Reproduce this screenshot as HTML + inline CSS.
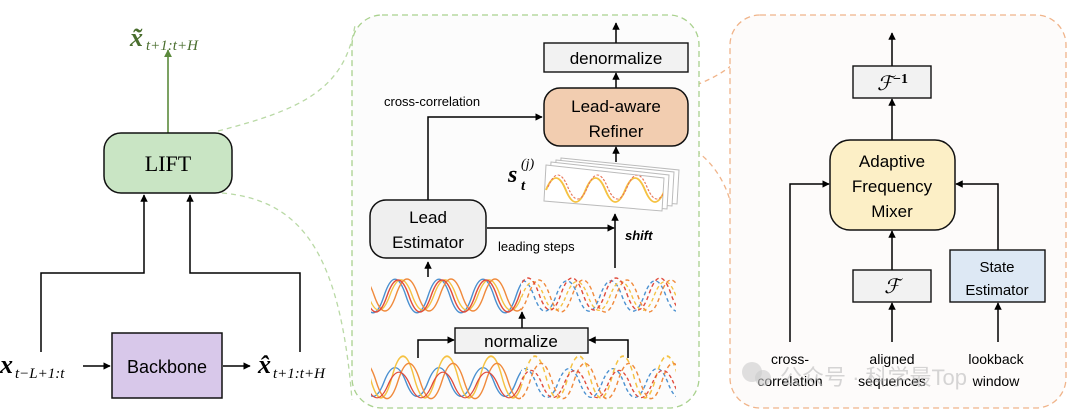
<!DOCTYPE html>
<html><head><meta charset="utf-8"><style>
html,body{margin:0;padding:0;background:#fff;}
svg{display:block;}
.s{font-family:"Liberation Sans",sans-serif;}
.m{font-family:"Liberation Serif",serif;font-style:italic;font-weight:bold;}
</style></head><body>
<svg width="1080" height="419" viewBox="0 0 1080 419" xmlns="http://www.w3.org/2000/svg">
<defs>
<marker id="a" viewBox="0 0 10 10" refX="9" refY="5" markerWidth="5" markerHeight="5" orient="auto"><path d="M0,0L10,5L0,10z" fill="#000"/></marker>
<marker id="g" viewBox="0 0 10 10" refX="9" refY="5" markerWidth="5" markerHeight="5" orient="auto"><path d="M0,0L10,5L0,10z" fill="#5b8a3c"/></marker>
<path id="w" d="M340,0 Q351,-32 362,0 T384,0 T406,0 T428,0 T450,0 T472,0 T494,0 T516,0 T538,0 T560,0 T582,0 T604,0 T626,0 T648,0 T670,0 T692,0 T714,0" fill="none"/>
<clipPath id="cs"><rect x="371" y="260" width="150" height="150"/></clipPath>
<clipPath id="cd"><rect x="521" y="260" width="155" height="150"/></clipPath>
<clipPath id="cp"><polygon points="546,165 664,178 662,211 544,201"/></clipPath>
</defs>

<path d="M218,131 C300,110 345,90 355,25" fill="none" stroke="#b9d9a5" stroke-width="1.3" stroke-dasharray="5,4"/>
<path d="M222,193 C300,200 340,250 352,400" fill="none" stroke="#b9d9a5" stroke-width="1.3" stroke-dasharray="5,4"/>
<path d="M688,88 C705,82 720,75 732,65" fill="none" stroke="#f0b48a" stroke-width="1.3" stroke-dasharray="5,4"/>
<path d="M688,146 C715,160 730,190 733,215" fill="none" stroke="#f0b48a" stroke-width="1.3" stroke-dasharray="5,4"/>

<rect x="352" y="15" width="347" height="393" rx="30" fill="#fcfcfc" stroke="#a9d18e" stroke-width="1.3" stroke-dasharray="6,4"/>
<rect x="730" y="15" width="336" height="393" rx="30" fill="#fdfbfa" stroke="#f0b48a" stroke-width="1.3" stroke-dasharray="6,4"/>

<!-- LEFT -->
<line x1="168" y1="133" x2="168" y2="50" stroke="#5b8a3c" stroke-width="1.6" marker-end="url(#g)"/>
<text x="130" y="46" class="m" font-size="26" fill="#4a6e2e">x̃</text>
<text x="146" y="50" font-family="Liberation Serif,serif" font-style="italic" font-size="15" fill="#4a6e2e">t+1:t+H</text>
<rect x="104" y="133" width="128" height="60" rx="17" fill="#c9e5c4" stroke="#111" stroke-width="1.5"/>
<text x="168" y="171" font-family="Liberation Serif,serif" font-size="22" text-anchor="middle">LIFT</text>
<polyline points="41,352 41,273 144,273 144,195" fill="none" stroke="#000" stroke-width="1.5" marker-end="url(#a)"/>
<polyline points="300,352 300,273 190,273 190,195" fill="none" stroke="#000" stroke-width="1.5" marker-end="url(#a)"/>
<rect x="112" y="333" width="110" height="65" fill="#d8c8ea" stroke="#111" stroke-width="1.5"/>
<text x="167" y="373" class="s" font-size="18" text-anchor="middle">Backbone</text>
<line x1="83" y1="366" x2="110" y2="366" stroke="#000" stroke-width="1.5" marker-end="url(#a)"/>
<line x1="223" y1="366" x2="250" y2="366" stroke="#000" stroke-width="1.5" marker-end="url(#a)"/>
<text x="0" y="373" class="m" font-size="26">x</text>
<text x="15" y="378" font-family="Liberation Serif,serif" font-style="italic" font-size="15">t−L+1:t</text>
<text x="258" y="373" class="m" font-size="26">x̂</text>
<text x="273" y="378" font-family="Liberation Serif,serif" font-style="italic" font-size="15">t+1:t+H</text>

<!-- MIDDLE -->
<line x1="616" y1="43" x2="616" y2="23" stroke="#000" stroke-width="1.5" marker-end="url(#a)"/>
<rect x="544" y="43" width="144" height="29" fill="#f2f2f2" stroke="#111" stroke-width="1.4"/>
<text x="616" y="64" class="s" font-size="17" text-anchor="middle">denormalize</text>
<line x1="616" y1="88" x2="616" y2="73" stroke="#000" stroke-width="1.5" marker-end="url(#a)"/>
<rect x="544" y="88" width="144" height="58" rx="16" fill="#f2cdb0" stroke="#111" stroke-width="1.5"/>
<text x="616" y="112" class="s" font-size="17" text-anchor="middle">Lead-aware</text>
<text x="616" y="137" class="s" font-size="17" text-anchor="middle">Refiner</text>
<text x="384" y="106" class="s" font-size="13">cross-correlation</text>
<polyline points="428,200 428,117 542,117" fill="none" stroke="#000" stroke-width="1.5" marker-end="url(#a)"/>
<line x1="616" y1="162" x2="616" y2="147" stroke="#000" stroke-width="1.5" marker-end="url(#a)"/>
<polygon points="561,158 679,170 677,204 559,194" fill="#fff" stroke="#bbb"/>
<polygon points="556,160 674,172 672,206 554,196" fill="#fff" stroke="#bbb"/>
<polygon points="551,162 669,175 667,209 549,199" fill="#fff" stroke="#bbb"/>
<polygon points="546,165 664,178 662,211 544,201" fill="#fff" stroke="#bbb"/>
<g clip-path="url(#cp)">
<use href="#w" transform="translate(240,190) scale(0.9,0.75)" stroke="#f5c242" stroke-width="2.2"/>
<use href="#w" transform="translate(242,187) scale(0.9,0.75)" stroke="#e8775a" stroke-width="1.4" stroke-dasharray="3,2"/>
</g>
<text x="508" y="182" class="m" font-size="24">s</text>
<text x="521" y="168" font-family="Liberation Serif,serif" font-style="italic" font-size="14">(j)</text>
<text x="521" y="190" font-family="Liberation Serif,serif" font-style="italic" font-weight="bold" font-size="15">t</text>
<rect x="370" y="200" width="116" height="58" rx="16" fill="#efefef" stroke="#111" stroke-width="1.5"/>
<text x="428" y="223" class="s" font-size="17" text-anchor="middle">Lead</text>
<text x="428" y="248" class="s" font-size="17" text-anchor="middle">Estimator</text>
<line x1="487" y1="228" x2="614" y2="228" stroke="#000" stroke-width="1.5" marker-end="url(#a)"/>
<text x="498" y="251" class="s" font-size="13">leading steps</text>
<text x="625" y="240" class="s" font-size="13" font-style="italic" font-weight="bold">shift</text>
<line x1="615" y1="268" x2="615" y2="214" stroke="#000" stroke-width="1.5" marker-end="url(#a)"/>
<line x1="428" y1="277" x2="428" y2="262" stroke="#000" stroke-width="1.5" marker-end="url(#a)"/>
<g clip-path="url(#cs)" stroke-width="1.4">
<use href="#w" transform="translate(0,296) scale(1,1.05)" stroke="#4a90d0"/>
<use href="#w" transform="translate(6,295) scale(1,0.95)" stroke="#f5c242"/>
<use href="#w" transform="translate(12,295) scale(1,1)" stroke="#f08a3c"/>
<use href="#w" transform="translate(3,296) scale(1,1)" stroke="#e04b3c"/>
</g>
<g clip-path="url(#cd)" stroke-width="1.4" stroke-dasharray="4,3">
<use href="#w" transform="translate(-4,296) scale(1,0.95)" stroke="#4a90d0"/>
<use href="#w" transform="translate(6,296) scale(1,0.9)" stroke="#f5c242"/>
<use href="#w" transform="translate(12,296) scale(1,1)" stroke="#f08a3c"/>
<use href="#w" transform="translate(1,294) scale(1,1)" stroke="#e04b3c"/>
</g>
<line x1="522" y1="328" x2="522" y2="312" stroke="#000" stroke-width="1.5" marker-end="url(#a)"/>
<rect x="455" y="328" width="133" height="25" fill="#f2f2f2" stroke="#111" stroke-width="1.4"/>
<text x="521" y="347" class="s" font-size="17" text-anchor="middle">normalize</text>
<polyline points="418,358 418,340 454,340" fill="none" stroke="#000" stroke-width="1.5" marker-end="url(#a)"/>
<polyline points="628,358 628,340 589,340" fill="none" stroke="#000" stroke-width="1.5" marker-end="url(#a)"/>
<g clip-path="url(#cs)" stroke-width="1.4">
<use href="#w" transform="translate(0,382) scale(1,0.9)" stroke="#4a90d0"/>
<use href="#w" transform="translate(8,377) scale(1,1.3)" stroke="#f5c242"/>
<use href="#w" transform="translate(14,381) scale(1,1.1)" stroke="#f08a3c"/>
<use href="#w" transform="translate(4,385) scale(1,0.8)" stroke="#e04b3c"/>
</g>
<g clip-path="url(#cd)" stroke-width="1.4" stroke-dasharray="4,3">
<use href="#w" transform="translate(-2,383) scale(1,0.9)" stroke="#4a90d0"/>
<use href="#w" transform="translate(8,377) scale(1,1.3)" stroke="#f5c242"/>
<use href="#w" transform="translate(14,381) scale(1,1.1)" stroke="#f08a3c"/>
<use href="#w" transform="translate(4,384) scale(1,0.85)" stroke="#e04b3c"/>
</g>

<!-- RIGHT -->
<line x1="892" y1="66" x2="892" y2="33" stroke="#000" stroke-width="1.5" marker-end="url(#a)"/>
<rect x="853" y="66" width="78" height="32" fill="#f2f2f2" stroke="#111" stroke-width="1.4"/>
<text x="877" y="90" font-family="Liberation Serif,serif" font-style="italic" font-size="20">ℱ</text>
<text x="893" y="83" font-family="Liberation Serif,serif" font-weight="bold" font-size="14">−1</text>
<line x1="892" y1="140" x2="892" y2="99" stroke="#000" stroke-width="1.5" marker-end="url(#a)"/>
<rect x="830" y="140" width="125" height="90" rx="20" fill="#fcefc6" stroke="#111" stroke-width="1.5"/>
<text x="892" y="167" class="s" font-size="17" text-anchor="middle">Adaptive</text>
<text x="892" y="192" class="s" font-size="17" text-anchor="middle">Frequency</text>
<text x="892" y="217" class="s" font-size="17" text-anchor="middle">Mixer</text>
<polyline points="790,342 790,184 829,184" fill="none" stroke="#000" stroke-width="1.5" marker-end="url(#a)"/>
<polyline points="998,250 998,184 956,184" fill="none" stroke="#000" stroke-width="1.5" marker-end="url(#a)"/>
<line x1="892" y1="270" x2="892" y2="231" stroke="#000" stroke-width="1.5" marker-end="url(#a)"/>
<rect x="853" y="270" width="78" height="32" fill="#f2f2f2" stroke="#111" stroke-width="1.4"/>
<text x="892" y="293" font-family="Liberation Serif,serif" font-style="italic" font-size="20" text-anchor="middle">ℱ</text>
<rect x="950" y="250" width="95" height="52" fill="#dde8f4" stroke="#111" stroke-width="1.4"/>
<text x="997" y="272" class="s" font-size="15" text-anchor="middle">State</text>
<text x="997" y="295" class="s" font-size="15" text-anchor="middle">Estimator</text>
<line x1="892" y1="342" x2="892" y2="303" stroke="#000" stroke-width="1.5" marker-end="url(#a)"/>
<line x1="998" y1="342" x2="998" y2="303" stroke="#000" stroke-width="1.5" marker-end="url(#a)"/>
<text x="790" y="364" class="s" font-size="14" text-anchor="middle">cross-</text>
<text x="790" y="386" class="s" font-size="14" text-anchor="middle">correlation</text>
<text x="892" y="364" class="s" font-size="14" text-anchor="middle">aligned</text>
<text x="892" y="386" class="s" font-size="14" text-anchor="middle">sequences</text>
<text x="996" y="364" class="s" font-size="14" text-anchor="middle">lookback</text>
<text x="996" y="386" class="s" font-size="14" text-anchor="middle">window</text>
<circle cx="752" cy="372" r="10" fill="#ccc" opacity="0.6"/>
<circle cx="763" cy="378" r="8" fill="#ccc" opacity="0.6"/>
<text x="780" y="385" font-family="Liberation Sans,'Noto Sans CJK SC',sans-serif" font-size="22" fill="#bbb" opacity="0.6">公众号 · 科学最Top</text>
</svg>
</body></html>
